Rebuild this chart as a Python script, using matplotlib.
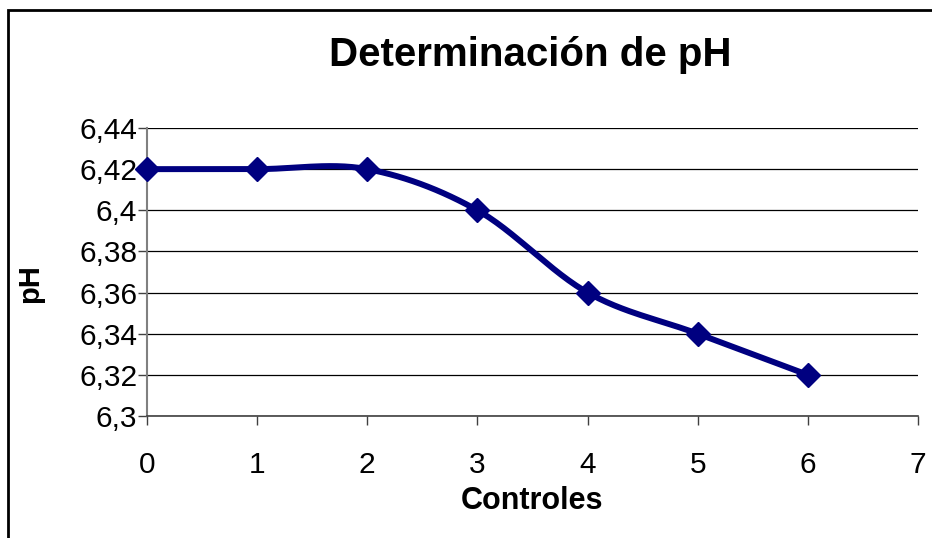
import numpy as np
import matplotlib.pyplot as plt
from matplotlib.patches import Rectangle

# data
controles = [0, 1, 2, 3, 4, 5, 6]
ph = [6.42, 6.42, 6.42, 6.40, 6.36, 6.34, 6.32]
yticks = [6.30, 6.32, 6.34, 6.36, 6.38, 6.40, 6.42, 6.44]
ytick_labels = ['6,3', '6,32', '6,34', '6,36', '6,38', '6,4', '6,42', '6,44']
xticks = [0, 1, 2, 3, 4, 5, 6, 7]

NAVY = '#000080'


def smooth(x, y, n=30):
    # excel-like smoothed line: catmull-rom through the points as bezier segments
    x = np.asarray(x, float)
    y = np.asarray(y, float)
    px = np.concatenate([[x[0]], x, [x[-1]]])
    py = np.concatenate([[y[0]], y, [y[-1]]])
    xs, ys = [], []
    t = np.linspace(0, 1, n)
    for i in range(1, len(px) - 2):
        p0 = np.array([px[i], py[i]])
        p3 = np.array([px[i + 1], py[i + 1]])
        p1 = p0 + (np.array([px[i + 1], py[i + 1]]) - np.array([px[i - 1], py[i - 1]])) / 6
        p2 = p3 - (np.array([px[i + 2], py[i + 2]]) - np.array([px[i], py[i]])) / 6
        b = ((1 - t) ** 3)[:, None] * p0 + (3 * (1 - t) ** 2 * t)[:, None] * p1 \
            + (3 * (1 - t) * t ** 2)[:, None] * p2 + (t ** 3)[:, None] * p3
        xs.extend(b[:, 0])
        ys.extend(b[:, 1])
    return xs, ys


plt.rcParams['font.family'] = ['Liberation Sans', 'DejaVu Sans']

fig = plt.figure(figsize=(9.32, 5.38), dpi=100)
ax = fig.add_axes([147 / 932, 1 - 416 / 538, (918 - 147) / 932, (416 - 128) / 538])

sx, sy = smooth(controles, ph)
ax.plot(sx, sy, color=NAVY, lw=4.3, solid_capstyle='round', zorder=3, clip_on=False)
ax.plot(controles, ph, linestyle='none', marker='D', ms=12.5, color=NAVY, zorder=4, clip_on=False)

ax.set_xlim(0, 7)
ax.set_ylim(6.30, 6.44)
ax.set_xticks(xticks)
ax.set_yticks(yticks)
ax.set_yticklabels(ytick_labels)
ax.tick_params(axis='both', labelsize=21.5, colors='black', width=1, length=6.5)
ax.tick_params(axis='x', color='#404040', pad=19)
ax.tick_params(axis='y', color='#404040', pad=0.5)
ax.grid(axis='y', color='black', lw=0.9)
ax.set_axisbelow(True)
for s in ['top', 'right']:
    ax.spines[s].set_visible(False)
ax.spines['left'].set_color('#808080')
ax.spines['left'].set_linewidth(1.5)
ax.spines['bottom'].set_color('#404040')
ax.spines['bottom'].set_linewidth(1.2)

ax.set_xlabel('Controles', fontsize=22, fontweight='bold', labelpad=5)
ax.set_ylabel('pH', fontsize=21, fontweight='bold', va='center')
ax.yaxis.set_label_coords((30 - 147) / 771, (416 - 284) / 288)
fig.text(530 / 932, 1 - 66 / 538, 'Determinación de pH', fontsize=29, fontweight='bold',
         ha='center', va='baseline')

# chart area border (cut off at right and bottom in the original)
fig.add_artist(Rectangle((8 / 932, -0.1), 1.2, 1 - 10 / 538 + 0.1, transform=fig.transFigure,
                         fill=False, edgecolor='black', lw=2))

fig.savefig('out.png', dpi=100)
